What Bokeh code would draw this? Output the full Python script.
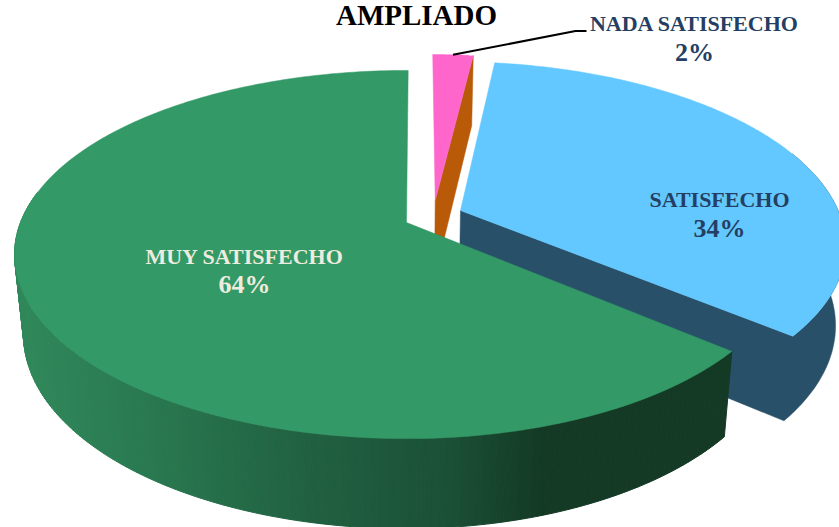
import math
from bokeh.plotting import figure
from bokeh.embed import file_html
from bokeh.resources import INLINE
from bokeh.core.properties import value

# --- data
categories = ["NADA SATISFECHO", "SATISFECHO", "MUY SATISFECHO"]
shares = [2, 34, 64]
percent_labels = ["2%", "34%", "64%"]
title_text = "AMPLIADO"

# --- styles
top_colors = ["#FF66CC", "#63C8FF", "#339966"]
wall_colors = ["#B85A08", "#285068", None]
label_colors = ["#243F63", "#243F63", "#EEEBDF"]
explode = [(0.076, 0.1254), (0.1415, 0.068), (0.0, 0.0)]
right_squeeze = [1.0, 0.99, 0.976]

W, H = 839, 527
CX, CY, A, B, K = 406.0, 222.0, 178.5, 386.0, 0.174
START = 89.7


def project(u, v):
    w = 1 + K * v
    return CX + B * u / w, CY - A * v / w


def lower(x, y):
    return CX + (x - CX) * 0.977, y + 70 + (y - 58) * 0.0526


def lerp_color(stops, x):
    if x <= stops[0][0]:
        return stops[0][1]
    for (x0, c0), (x1, c1) in zip(stops, stops[1:]):
        if x <= x1:
            t = (x - x0) / (x1 - x0)
            return tuple(c0[i] + (c1[i] - c0[i]) * t for i in range(3))
    return stops[-1][1]


def hexc(c):
    return "#%02x%02x%02x" % tuple(int(round(i)) for i in c)


total = sum(shares)
angles = []
cur = START
for s in shares:
    nxt = cur - 360.0 * s / total
    angles.append((cur, nxt))
    cur = nxt


def arc(i, a0, a1, n):
    ox, oy = explode[i]
    pts = []
    for j in range(n + 1):
        t = math.radians(a0 + (a1 - a0) * j / n)
        u = math.cos(t)
        if u > 0:
            u *= right_squeeze[i]
        pts.append(project(ox + u, oy + math.sin(t)))
    return pts


p = figure(width=W, height=H, x_range=(0, W), y_range=(H, 0), toolbar_location=None,
           output_backend="svg", min_border=0)
p.axis.visible = False
p.grid.visible = False
p.outline_line_color = None
p.background_fill_color = "white"


def draw_top(i):
    ox, oy = explode[i]
    pts = [project(ox, oy)] + arc(i, angles[i][0], angles[i][1], 240)
    p.patch([q[0] for q in pts], [q[1] for q in pts], fill_color=top_colors[i], line_color=top_colors[i], line_width=0.5)


def draw_wall(pts, color):
    low = [lower(*q) for q in pts]
    all_pts = pts + low[::-1]
    p.patch([q[0] for q in all_pts], [q[1] for q in all_pts], fill_color=color, line_color=color, line_width=0.5)


# satisfecho: cut face and outer wall as one shape
a0, a1 = angles[1]
ox, oy = explode[1]
draw_wall([project(ox, oy)] + arc(1, a1, a1 + 60, 80), wall_colors[1])
draw_top(1)

# nada: cut face
a0, a1 = angles[0]
ox, oy = explode[0]
draw_wall([project(ox, oy)] + arc(0, a1, a1, 1)[:1], wall_colors[0])
draw_top(0)

# muy satisfecho: outer wall, shaded across its width
green_stops = [
    (20, (48, 136, 90)),
    (150, (41, 120, 80)),
    (300, (33, 98, 66)),
    (450, (27, 80, 54)),
    (540, (20, 58, 38)),
    (730, (20, 58, 38)),
]
a0, a1 = angles[2]
pts = arc(2, -190, a0, 160)
qx, qy, qc = [], [], []
for q0, q1 in zip(pts, pts[1:]):
    l0, l1 = lower(*q0), lower(*q1)
    qx.append([q0[0], q1[0], l1[0], l0[0]])
    qy.append([q0[1], q1[1], l1[1], l0[1]])
    qc.append(hexc(lerp_color(green_stops, (q0[0] + q1[0]) / 2)))
p.patches(qx, qy, fill_color=qc, line_color=qc, line_width=1)
draw_top(2)

# leader of the small slice
a0, a1 = angles[0]
mid = arc(0, (a0 + a1) / 2, (a0 + a1) / 2, 1)[0]
p.line([mid[0], 575, 586], [mid[1], 30.5, 30.5], line_color="black", line_width=2)

# texts
font = value("Liberation Serif")
label_xy = [(694, 23, 52), (719, 199, 228), (244, 256, 284)]
for name, pct, col, (x, y0, y1) in zip(categories, percent_labels, label_colors, label_xy):
    p.text([x], [y0], text=[name], text_color=col, text_font=font, text_font_size="22px",
           text_font_style="bold", text_align="center", text_baseline="middle")
    p.text([x], [y1], text=[pct], text_color=col, text_font=font, text_font_size="26px",
           text_font_style="bold", text_align="center", text_baseline="middle")
p.text([416], [14.5], text=[title_text], text_color="black", text_font=font, text_font_size="29px",
       text_font_style="bold", text_align="center", text_baseline="alphabetic")

open("out.html", "w").write(file_html(p, INLINE))
